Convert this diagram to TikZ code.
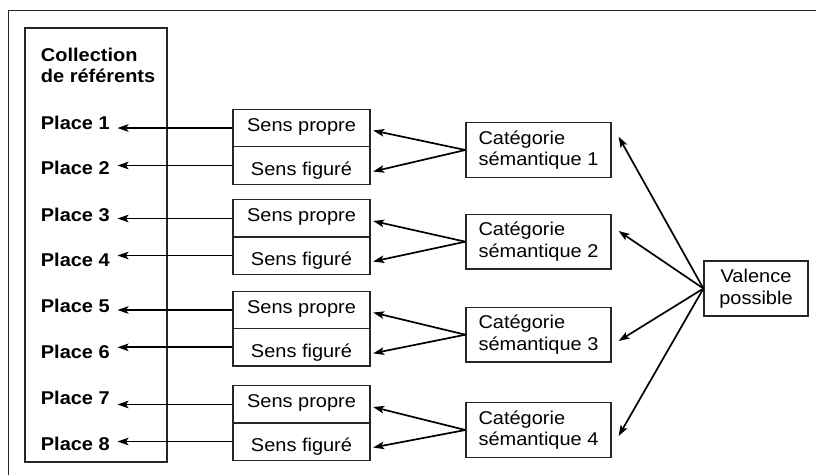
\documentclass[tikz,border=0pt]{standalone}
\usepackage{fontspec}
\setmainfont{Liberation Sans}[FakeStretch=1.08]
\usetikzlibrary{arrows.meta,calc}
\begin{document}
\begin{tikzpicture}[x=1pt,y=-1pt,
  box/.style={draw=black!85,line width=1.2pt,inner sep=0pt},
  sensp/.style={box,minimum width=137pt,minimum height=37.5pt,text height=13pt,text depth=7pt,font=\fontsize{18.5}{21.5}\selectfont},
  sensf/.style={box,minimum width=137pt,minimum height=37.5pt,text height=20pt,text depth=0pt,font=\fontsize{18.5}{21.5}\selectfont},
  catbox/.style={box,minimum width=145pt,minimum height=54.5pt,align=left,font=\fontsize{18.5}{21.5}\selectfont},
  arr/.style={line width=1.7pt,-{Stealth[length=11pt,width=7.5pt,inset=2.5pt]}},
  place/.style={anchor=base west,inner sep=0pt,font=\bfseries\fontsize{18.5}{21.5}\selectfont}]
\useasboundingbox (0,0) rectangle (816,475);
\draw[line width=1.3pt,black!85] (816,10.7) -- (8.3,10.7) -- (8.3,475);
% collection box
\node[box,minimum width=142pt,minimum height=434pt] (coll) at (96,245) {};
\node[anchor=base west,inner sep=0pt,align=left,font=\bfseries\fontsize{18.5}{21.3}\selectfont] (title) at (40.7,82.3) {Collection\\de référents};
% places
\foreach \i/\y in {1/129.3,2/174,3/221,4/266.5,5/312.3,6/358.3,7/404,8/450}
  \node[place] (p\i) at (40.7,\y) {Place \i};
\coordinate (tipx) at (117.5,0);
% sens boxes
\foreach \i/\a/\b in {1/128/165.5,2/218.5/255.5,3/310/347.3,4/404.5/441.5}{
  \node[sensp] (sp\i) at (301.5,\a) {Sens propre};
  \node[sensf] (sf\i) at (301.5,\b) {Sens figuré};
}
% categories
\foreach \i/\y in {1/150,2/241.7,3/334.7,4/430}
  \node[catbox] (c\i) at (538.5,\y) {Catégorie\\sémantique \i};
% valence
\node[box,minimum width=104pt,minimum height=55pt,align=center,font=\fontsize{18.5}{21.5}\selectfont] (val) at (756,288.5) {Valence\\possible};
% arrows
\foreach \i in {1,...,4}{
  \draw[arr] (sp\i.west) -- (sp\i.west -| tipx);
  \draw[arr] (sf\i.west) -- (sf\i.west -| tipx);
  \draw[arr] (c\i.west) -- ($(sp\i.east)+(2.5,2.5)$);
  \draw[arr] (c\i.west) -- ($(sf\i.east)+(2.5,6)$);
}
\draw[arr] (val.west) -- ($(c1.east)+(7,-13.3)$);
\draw[arr] (val.west) -- ($(c2.east)+(7,-10.7)$);
\draw[arr] (val.west) -- ($(c3.east)+(7,6.3)$);
\draw[arr] (val.west) -- ($(c4.east)+(7,6)$);
\end{tikzpicture}
\end{document}
